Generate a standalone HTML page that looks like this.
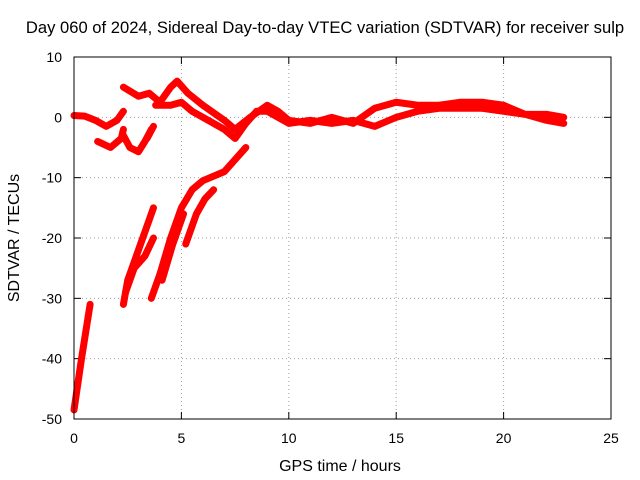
<!DOCTYPE html>
<html><head><meta charset="utf-8"><style>
body{margin:0;background:#fff}
svg{display:block;font-family:"Liberation Sans",sans-serif}
</style></head><body>
<svg id="c" width="640" height="480">
<text x="325" y="33" text-anchor="middle" font-size="16.6">Day 060 of 2024, Sidereal Day-to-day VTEC variation (SDTVAR) for receiver sulp</text>
<text x="340" y="471" text-anchor="middle" font-size="16">GPS time / hours</text>
<text transform="translate(19,238) rotate(-90)" text-anchor="middle" font-size="16">SDTVAR / TECUs</text>
<g id="grid"></g><g id="ticks"></g><g id="data"></g>
<rect x="74" y="57" width="537" height="362" fill="none" stroke="#000"/>
</svg>
<script>
const xTicks=[0,5,10,15,20,25];
const yTicks=[-50,-40,-30,-20,-10,0,10];
const track1=[[0,-48.5],[0.35,-40],[0.75,-31]];
const track2=[[2.3,-31],[2.5,-27],[3,-22],[3.5,-17],[3.7,-15]];
const track3=[[2.4,-29],[2.8,-25],[3.3,-23],[3.7,-20]];
const track4=[[3.6,-30],[4,-26],[4.5,-20],[5,-15],[5.5,-12],[6,-10.5],[7,-9],[7.5,-7],[8,-5]];
const track5=[[4.1,-27],[4.6,-21],[5.1,-16]];
const track6=[[5.2,-21],[5.7,-16],[6.1,-13.5],[6.5,-12]];
const track7=[[0,0.3],[0.5,0.2],[1,-0.5],[1.5,-1.5],[2,-0.5],[2.3,1]];
const track8=[[1.1,-4],[1.7,-5],[2.2,-3.5],[2.3,-2]];
const track9=[[2.3,-3],[2.6,-5],[3,-5.7],[3.3,-4],[3.6,-2]];
const track10=[[3.4,-3.5],[3.7,-1.5]];
const track11=[[2.3,5],[3,3.5],[3.5,4],[4,2.5],[4.5,5],[4.8,6],[5.3,4],[6,2],[7,-0.5],[7.5,-2],[8.2,0],[9,2],[9.5,1],[10,-0.5],[11,-1],[12,0],[13,-1],[14,1.5],[15,2.5],[16,2],[17,2],[18,2.5],[19,2.5],[20,2],[21,0.5],[22,0.5],[22.8,0]];
const track12=[[3.8,2],[4.5,2],[5,2.5],[5.5,1],[6,0],[7,-2],[7.5,-3.5],[8,-1],[8.5,1],[9,1],[10,-1],[11,-0.5],[12,-1],[13,-0.5],[14,-1.5],[15,0],[16,1],[17,1.5],[18,1.5],[19,1.5],[20,1],[21,0.5],[22,-0.5],[22.8,-1]];
const tracks=[track1,track2,track3,track4,track5,track6,track7,track8,track9,track10,track11,track12];
const NS="http://www.w3.org/2000/svg";
const X=v=>74+(v-0)/25*537, Y=v=>419-(v+50)/60*362;
const grid=document.getElementById('grid'),ticks=document.getElementById('ticks'),data=document.getElementById('data');
function mk(t,a,p){const e=document.createElementNS(NS,t);for(const k in a)e.setAttribute(k,a[k]);p.appendChild(e);return e;}
xTicks.forEach(v=>{
 const x=X(v);
 if(v>0&&v<25){const g=mk('line',{x1:x,x2:x,y1:57,y2:419,stroke:'#a0a0a0','stroke-dasharray':'1,3'},grid);
 
 }
 mk('line',{x1:x,x2:x,y1:419,y2:412,stroke:'#000'},ticks);mk('line',{x1:x,x2:x,y1:57,y2:64,stroke:'#000'},ticks);
 const t=mk('text',{x:x,y:443,'text-anchor':'middle','font-size':14},ticks);t.textContent=v;
 
 
});
yTicks.forEach(v=>{
 const y=Y(v);
 if(v>-50&&v<10){const g=mk('line',{x1:74,x2:611,y1:y,y2:y,stroke:'#a0a0a0','stroke-dasharray':'1,3'},grid);
 
 }
 mk('line',{x1:74,x2:81,y1:y,y2:y,stroke:'#000'},ticks);mk('line',{x1:611,x2:604,y1:y,y2:y,stroke:'#000'},ticks);
 const t=mk('text',{x:62,y:y+5,'text-anchor':'end','font-size':14},ticks);t.textContent=v;
 
 
});
tracks.forEach(tr=>{
 const p=mk('polyline',{points:tr.map(d=>X(d[0])+','+Y(d[1])).join(' '),fill:'none',stroke:'#ff0000','stroke-width':7,'stroke-linejoin':'round','stroke-linecap':'round'},data);
 
 
});
</script>
</body></html>
